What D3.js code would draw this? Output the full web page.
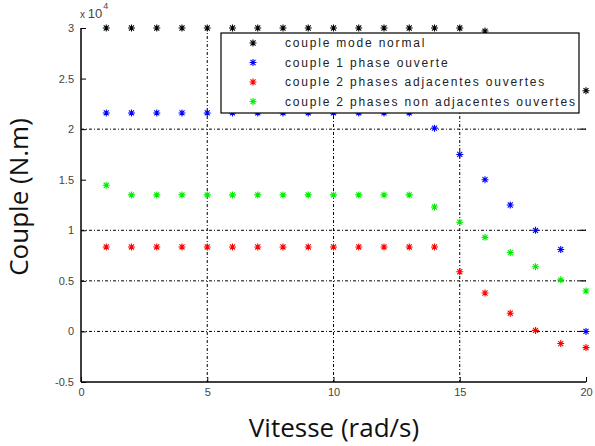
<!DOCTYPE html>
<html><head><meta charset="utf-8">
<script src="https://cdn.jsdelivr.net/npm/d3@7"></script>
<style>
body{margin:0;background:#fff;}
svg{display:block;}
</style></head>
<body>
<svg id="chart" width="595" height="446"></svg>
<script>
const speeds = [1,2,3,4,5,6,7,8,9,10,11,12,13,14,15,16,17,18,19,20];
const normalMode = [3,3,3,3,3,3,3,3,3,3,3,3,3,3,3,2.97,2.8,2.64,2.5,2.38];
const onePhase = [2.16,2.16,2.16,2.16,2.16,2.16,2.16,2.16,2.16,2.16,2.16,2.16,2.16,2.01,1.75,1.5,1.25,1.0,0.81,0.0];
const twoAdjacent = [0.835,0.835,0.835,0.835,0.835,0.835,0.835,0.835,0.835,0.835,0.835,0.835,0.835,0.835,0.59,0.38,0.18,0.01,-0.12,-0.16];
const twoNonAdjacent = [1.445,1.35,1.35,1.35,1.35,1.35,1.35,1.35,1.35,1.35,1.35,1.35,1.35,1.23,1.08,0.93,0.78,0.64,0.51,0.40];
const seriesNames = ["couple mode normal","couple 1 phase ouverte","couple 2 phases adjacentes ouvertes","couple 2 phases non adjacentes ouvertes"];
const seriesColors = ["#000000","#0000ff","#ff0000","#00ee00"];
const xTicks = [0,5,10,15,20];
const yTicks = [-0.5,0,0.5,1,1.5,2,2.5,3];
const yTickLabels = ["-0.5","0","0.5","1","1.5","2","2.5","3"];
const xGrid = [5,10,15];
const yGrid = [0,0.5,1,2];

const svg = d3.select("#chart");
const x = d3.scaleLinear().domain([0,20]).range([81,586]);
const y = d3.scaleLinear().domain([-0.5,3]).range([382,28]);

const dash = "3,2,1,2";
// grid
svg.append("g").selectAll("line").data(xGrid).join("line")
  .attr("x1",d=>x(d)).attr("x2",d=>x(d)).attr("y1",y(3)).attr("y2",y(-0.5))
  .attr("stroke","#000").attr("stroke-width",1).attr("stroke-dasharray",dash);
svg.append("g").selectAll("line").data(yGrid).join("line")
  .attr("x1",x(0)).attr("x2",x(20)).attr("y1",d=>y(d)).attr("y2",d=>y(d))
  .attr("stroke","#000").attr("stroke-width",1).attr("stroke-dasharray",dash);
// right ticks
svg.append("g").selectAll("line").data(yGrid).join("line")
  .attr("x1",x(20)-6).attr("x2",x(20)).attr("y1",d=>y(d)).attr("y2",d=>y(d))
  .attr("stroke","#000").attr("stroke-width",1.2);

// axes
const yAxis = d3.axisLeft(y).tickValues(yTicks).tickSize(-5).tickPadding(7)
  .tickFormat((d,i)=>yTickLabels[i]);
const gy = svg.append("g").attr("transform",`translate(${x(0)},0)`).call(yAxis);
const xAxis = d3.axisBottom(x).tickValues(xTicks).tickSize(-5).tickPadding(6).tickFormat(d3.format("d"));
const gx = svg.append("g").attr("transform",`translate(0,${y(-0.5)})`).call(xAxis);
[gx,gy].forEach(g=>{
  g.select(".domain").attr("stroke","#000").attr("stroke-width",1.5);
  g.selectAll(".tick line").attr("stroke","#000");
  g.selectAll(".tick text").attr("font-family","Liberation Sans, Arial, sans-serif")
    .attr("font-size",11).attr("fill","#444");
});
gx.select(".domain").attr("d",`M${x(0)},0H${x(20)}`);
gy.select(".domain").attr("d",`M0,${y(3)}V${y(-0.5)}`);

// exponent
const ex = svg.append("text").attr("x",80).attr("y",18)
  .attr("font-family","Liberation Sans, Arial, sans-serif").attr("fill","#444");
ex.append("tspan").attr("font-size",10).text("x ");
ex.append("tspan").attr("font-size",13).text("10");
ex.append("tspan").attr("font-size",9).attr("dy",-9).attr("dx",1).text("4");

// markers
const starPath = r => {
  const d = r*0.72;
  return `M0,${-r}V${r}M${-r},0H${r}M${-d},${-d}L${d},${d}M${-d},${d}L${d},${-d}`;
};
const allSeries = [normalMode,onePhase,twoAdjacent,twoNonAdjacent];
allSeries.forEach((vals,si)=>{
  svg.append("g").selectAll("path").data(speeds.map((s,i)=>[s,vals[i]])).join("path")
    .attr("transform",d=>`translate(${x(d[0])},${y(d[1])})`)
    .attr("d",starPath(3.5)).attr("stroke",seriesColors[si]).attr("stroke-width",1.1).attr("fill","none");
});

// legend
const lg = svg.append("g");
lg.append("rect").attr("x",221).attr("y",33).attr("width",358).attr("height",80)
  .attr("fill","#fff").attr("stroke","#000").attr("stroke-width",1.2);
seriesNames.forEach((n,i)=>{
  const cy = 43 + i*19.5;
  lg.append("path").attr("transform",`translate(253,${cy})`).attr("d",starPath(3.5))
    .attr("stroke",seriesColors[i]).attr("stroke-width",1.1).attr("fill","none");
  lg.append("text").attr("x",285).attr("y",cy+4).text(n)
    .attr("font-family","Liberation Sans, Arial, sans-serif").attr("font-size",12)
    .attr("letter-spacing","1.8px").attr("fill","#222");
});

// axis titles
svg.append("text").attr("x",334).attr("y",437).attr("text-anchor","middle")
  .attr("font-family","Open Sans, sans-serif").attr("font-size",26).attr("fill","#111")
  .text("Vitesse (rad/s)");
svg.append("text").attr("transform","translate(28,197) rotate(-90)").attr("text-anchor","middle")
  .attr("font-family","Open Sans, sans-serif").attr("font-size",26).attr("fill","#111")
  .text("Couple (N.m)");
</script>
</body></html>
